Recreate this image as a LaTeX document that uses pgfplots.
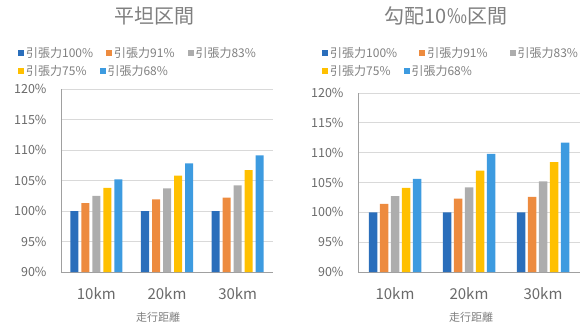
\documentclass[border=0pt]{standalone}
\usepackage{fontspec}
\setmainfont{Noto Sans CJK JP}
\usepackage{pgfplots}
\pgfplotsset{compat=1.18}
\definecolor{c1}{HTML}{2A6EBB}
\definecolor{c2}{HTML}{ED8B3F}
\definecolor{c3}{HTML}{ADADAD}
\definecolor{c4}{HTML}{FFC000}
\definecolor{c5}{HTML}{3D9BE0}
\definecolor{gridc}{HTML}{D9D9D9}
\definecolor{axc}{HTML}{A0A0A0}
\definecolor{txtc}{HTML}{6A6A6A}
\definecolor{titc}{HTML}{7F7F7F}
\pgfplotsset{
  legsty/.style={
    legend image code/.code={\fill[##1] (0pt,-3pt) rectangle (6pt,3pt);},
    legend cell align=left,
    legend style={draw=none, fill=none, inner sep=0pt,
      font=\fontsize{12}{13}\selectfont, text=titc,
      /tikz/every even column/.append style={column sep=11pt}},
  },
  base/.style={
    scale only axis, anchor=south west,
    ybar, bar width=8pt,
    legsty,
    ymin=90, ymax=120, xmin=-0.5, xmax=2.5,
    xtick={0,1,2}, xticklabels={10km,20km,30km},
    ytick={90,95,100,105,110,115,120},
    yticklabels={90\%,95\%,100\%,105\%,110\%,115\%,120\%},
    ymajorgrids, grid style={draw=gridc, line width=0.8pt},
    axis x line*=bottom, axis y line*=left,
    axis line style={draw=axc, line width=0.8pt, -},
    major tick length=0pt,
    tick label style={text=txtc},
    yticklabel style={font=\fontsize{12.5}{13}\selectfont, xshift=-11pt},
    xticklabel style={font=\fontsize{15}{16}\selectfont, yshift=-12pt},
    xlabel={走行距離},
    xlabel style={font=\fontsize{11}{12}\selectfont, text=titc, anchor=center},
    title style={font=\fontsize{20}{22}\selectfont, text=titc, anchor=center},
    legend columns=3,
  },
  hid/.style={hide axis, scale only axis, width=10pt, height=10pt,
    legsty, anchor=west,
    xmin=0, xmax=1, ymin=0, ymax=1, legend columns=2,
    legend style={at={(0,0.5)}, anchor=west}},
}
\begin{document}
\begin{tikzpicture}
\path[use as bounding box] (0pt,0pt) rectangle (587pt,325pt);
% left chart
\begin{axis}[base, at={(61pt,53pt)}, width=212pt, height=183pt,
  title={平坦区間}, title style={at={(axis description cs:0.443,1.366)}},
  xlabel style={at={(axis description cs:0.458,-0.246)}},
  legend style={at={(axis description cs:-0.203,1.195)}, anchor=west}]
\addplot[fill=c1, draw=none, bar shift=-22pt] coordinates {(0,100) (1,100) (2,100)};
\addplot[fill=c2, draw=none, bar shift=-11pt] coordinates {(0,101.3) (1,101.9) (2,102.2)};
\addplot[fill=c3, draw=none, bar shift=0pt] coordinates {(0,102.5) (1,103.7) (2,104.2)};
\addplot[fill=c4, draw=none, bar shift=11pt] coordinates {(0,103.8) (1,105.8) (2,106.7)};
\addplot[fill=c5, draw=none, bar shift=22pt] coordinates {(0,105.2) (1,107.8) (2,109.1)};
\legend{引張力100\%, 引張力91\%, 引張力83\%}
\end{axis}
\begin{axis}[hid, at={(18pt,254pt)}]
\addlegendimage{fill=c4, draw=none}\addlegendentry{引張力75\%}
\addlegendimage{fill=c5, draw=none}\addlegendentry{引張力68\%}
\end{axis}
% right chart
\begin{axis}[base, at={(358pt,53pt)}, width=222pt, height=179pt, bar width=8.5pt,
  title={勾配10‰区間}, title style={at={(axis description cs:0.396,1.397)}},
  xlabel style={at={(axis description cs:0.51,-0.251)}},
  legend style={at={(axis description cs:-0.162,1.222)}, anchor=west,
    /tikz/every even column/.append style={column sep=20pt}}]
\addplot[fill=c1, draw=none, bar shift=-22pt] coordinates {(0,100) (1,100) (2,100)};
\addplot[fill=c2, draw=none, bar shift=-11pt] coordinates {(0,101.4) (1,102.3) (2,102.6)};
\addplot[fill=c3, draw=none, bar shift=0pt] coordinates {(0,102.7) (1,104.2) (2,105.2)};
\addplot[fill=c4, draw=none, bar shift=11pt] coordinates {(0,104.1) (1,107.0) (2,108.4)};
\addplot[fill=c5, draw=none, bar shift=22pt] coordinates {(0,105.6) (1,109.8) (2,111.7)};
\legend{引張力100\%, 引張力91\%, 引張力83\%}
\end{axis}
\begin{axis}[hid, at={(322pt,254pt)}]
\addlegendimage{fill=c4, draw=none}\addlegendentry{引張力75\%}
\addlegendimage{fill=c5, draw=none}\addlegendentry{引張力68\%}
\end{axis}
\end{tikzpicture}
\end{document}
